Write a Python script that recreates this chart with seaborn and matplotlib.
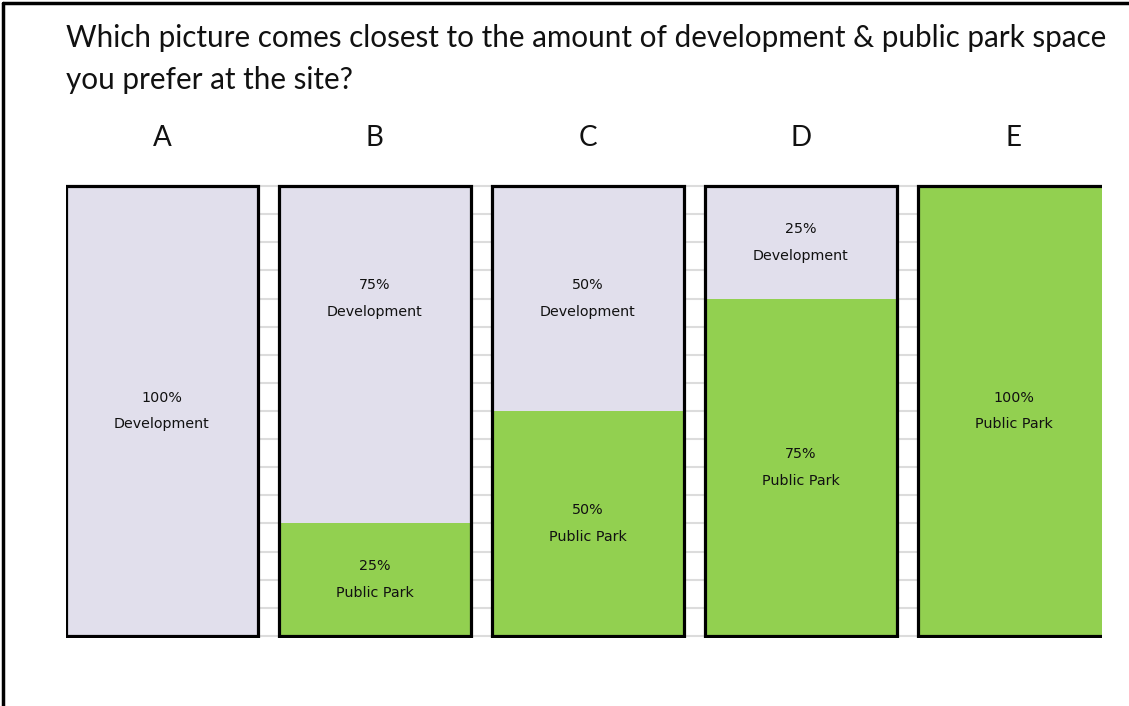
import numpy as np
import pandas as pd
import seaborn as sns
import matplotlib.pyplot as plt
from matplotlib.lines import Line2D

# picture options and their split between development and park
options = ['A', 'B', 'C', 'D', 'E']
park_pct = [0, 25, 50, 75, 100]
dev_pct = [100, 75, 50, 25, 0]
title = ('Which picture comes closest to the amount of development & public park space\n'
         'you prefer at the site?')

dev_color = '#e1dfec'
park_color = '#92d050'

df = pd.DataFrame({'option': options, 'park': park_pct, 'dev': dev_pct})
df['total'] = df['park'] + df['dev']

sns.set_style('white')
plt.rcParams['font.family'] = ['Lato', 'DejaVu Sans']

W, H = 1129, 706
fig = plt.figure(figsize=(W / 100, H / 100), dpi=100)
ax = fig.add_axes([66 / W, 1 - 638 / H, (1102 - 66) / W, 454 / H])

# development fills the whole bar, park covers the lower part, then the outline
sns.barplot(data=df, x='option', y='total', color=dev_color, width=0.9,
            saturation=1, linewidth=0, ax=ax)
sns.barplot(data=df, x='option', y='park', color=park_color, width=0.9,
            saturation=1, linewidth=0, ax=ax)
sns.barplot(data=df, x='option', y='total', color='black', width=0.9,
            fill=False, linewidth=2.3, ax=ax)

ax.set_xlim(-0.45, 4.414)
ax.set_ylim(-0.45, 100.45)
ax.set_yticks(np.arange(0, 100.01, 6.25))
ax.yaxis.grid(True, color='#dcdcdc', lw=1.5)
ax.set_axisbelow(True)
ax.set_yticklabels([])
ax.set_xlabel('')
ax.set_ylabel('')
ax.tick_params(axis='x', top=True, labeltop=True, bottom=False, labelbottom=False,
               length=0, pad=24, labelsize=20, labelcolor='#111111')
ax.tick_params(axis='y', length=0)
sns.despine(ax=ax, left=True, bottom=True)

lab_font = dict(family=['DejaVu Sans'], fontsize=10.3,
                ha='center', va='center', linespacing=2.15, color='#111111')
for i, (p, d) in enumerate(zip(park_pct, dev_pct)):
    if d > 0:
        y = p + d / 2
        if p > 0:
            y = max(y, 75)
        ax.text(i, y, f'{d}%\nDevelopment', **lab_font)
    if p > 0:
        ax.text(i, p / 2, f'{p}%\nPublic Park', **lab_font)

fig.text(66 / W, 1 - 59 / H, title, fontsize=21.3, ha='left', va='center',
         linespacing=1.6, color='#111111')

# frame lines of the screenshot
fig.add_artist(Line2D([3 / W, 1], [1 - 3 / H, 1 - 3 / H], color='black', lw=2.5))
fig.add_artist(Line2D([3 / W, 3 / W], [0, 1 - 3 / H], color='black', lw=2.5))

fig.savefig('out.png', dpi=100)
